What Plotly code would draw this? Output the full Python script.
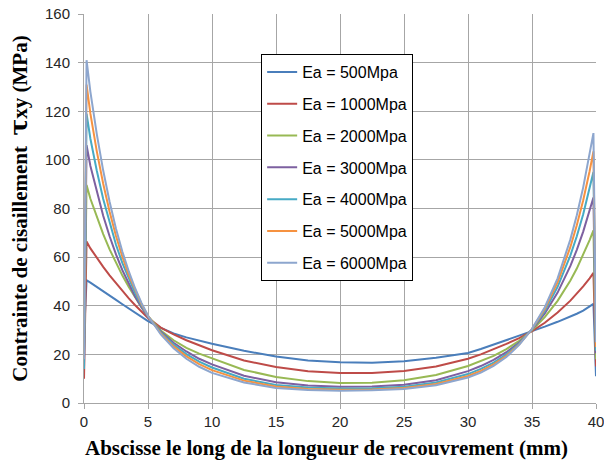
import plotly.graph_objects as go

# Abscissa along the overlap length (mm)
x_mm = [0, 0.2, 0.5, 1, 1.5, 2, 2.5, 3, 3.5, 4, 4.5, 5, 6, 7, 8, 9, 10,
        12.5, 15, 17.5, 20, 22.5, 25, 27.5, 30, 31, 32, 33, 34, 35, 36, 37, 38,
        38.5, 39, 39.5, 39.8, 40]

ea_500 = [28, 50.5, 49.5, 47.8, 46.0, 44.2, 42.4, 40.6, 38.8, 37.0, 35.3, 33.7,
          30.9, 28.6, 27.0, 25.6, 24.4, 21.5, 19.1, 17.5, 16.8, 16.6, 17.2, 18.6, 20.6,
          22.2, 24.0, 25.8, 27.6, 29.5, 31.4, 33.4, 35.5, 36.7, 38.0, 39.6, 40.8, 11]
ea_1000 = [10, 66.4, 63.6, 59.6, 56.0, 52.5, 49.2, 46.0, 43.0, 40.2, 37.5, 35.0,
           31.0, 28.2, 25.8, 23.6, 21.7, 17.5, 14.8, 13.1, 12.3, 12.3, 13.2, 15.0, 18.2,
           20.0, 22.0, 24.3, 26.7, 29.6, 33.0, 37.2, 42.1, 44.9, 48.0, 51.3, 53.5, 15]
ea_2000 = [20, 89.7, 84.0, 76.5, 69.5, 63.2, 57.6, 52.4, 47.7, 43.3, 39.3, 35.7,
           29.8, 25.8, 22.7, 20.3, 18.4, 13.6, 10.7, 9.0, 8.2, 8.3, 9.4, 11.5, 15.2,
           17.2, 19.4, 22.2, 25.6, 29.9, 35.3, 42.0, 50.4, 55.3, 60.8, 67.0, 71.0, 18]
ea_3000 = [16, 106, 97.5, 86.6, 77.0, 68.6, 61.1, 54.6, 48.8, 43.7, 39.3, 35.3,
           29.4, 24.8, 21.2, 18.2, 15.9, 11.2, 8.5, 7.2, 6.7, 6.8, 7.5, 9.4, 13.1,
           15.2, 17.7, 20.9, 24.9, 30.2, 36.8, 45.4, 56.4, 63.0, 70.5, 78.9, 84.5, 20.5]
ea_4000 = [14, 119, 108.7, 95.5, 83.9, 73.9, 65.1, 57.5, 50.9, 45.1, 40.0, 35.6,
           29.0, 24.0, 20.1, 17.0, 14.6, 10.0, 7.4, 6.4, 6.0, 6.1, 6.7, 8.4, 11.9,
           14.0, 16.6, 20.0, 24.5, 30.3, 37.9, 47.8, 60.7, 68.6, 77.6, 87.9, 95.0, 21.5]
ea_5000 = [24, 131, 119.0, 103.5, 90.2, 78.7, 68.7, 60.1, 52.6, 46.2, 40.6, 35.8,
           28.6, 23.3, 19.2, 16.0, 13.5, 9.2, 6.8, 5.8, 5.5, 5.6, 6.2, 7.8, 11.1,
           13.2, 15.9, 19.4, 24.1, 30.4, 38.7, 49.6, 64.2, 73.1, 83.4, 95.3, 103.5, 23]
ea_6000 = [18, 141, 128.0, 110.6, 95.6, 82.8, 71.7, 62.2, 54.1, 47.1, 41.1, 35.9,
           28.2, 22.5, 18.2, 14.9, 12.4, 8.4, 6.2, 5.3, 5.0, 5.2, 5.8, 7.3, 10.5,
           12.5, 15.3, 18.9, 23.9, 30.5, 39.4, 51.3, 67.3, 77.2, 88.7, 102.1, 111.0, 25]

series_names = ["Ea = 500Mpa", "Ea = 1000Mpa", "Ea = 2000Mpa", "Ea = 3000Mpa",
                "Ea = 4000Mpa", "Ea = 5000Mpa", "Ea = 6000Mpa"]
series_values = [ea_500, ea_1000, ea_2000, ea_3000, ea_4000, ea_5000, ea_6000]
series_colors = ["#4A7EBB", "#BE4B48", "#98B954", "#7D60A0", "#46AAC5", "#F69240", "#8DA6CE"]

x_title = "<b>Abscisse le long de la longueur de recouvrement (mm)</b>"
y_title = ("<b>Contrainte de cisaillement  "
           "<span style='font-size:25px;font-family:DejaVu Serif'>τ</span>xy (MPa)</b>")

fig = go.Figure()
for i, (name, vals, col) in enumerate(zip(series_names, series_values, series_colors)):
    fig.add_trace(go.Scatter(x=x_mm, y=vals, mode="lines", name=name,
                             legendgroup=f"g{i}",
                             line=dict(color=col, width=2)))

grid_col = "#A6A6A6"
tick_font = dict(family="Liberation Sans, Arial, sans-serif", size=15, color="#262626")
title_font = dict(family="Liberation Serif, Times New Roman, serif", size=21, color="#000000")

fig.update_layout(
    width=604, height=466,
    margin=dict(l=84, r=8, t=14, b=63),
    paper_bgcolor="white", plot_bgcolor="white",
    showlegend=True,
    legend=dict(x=0.346, y=0.897, xanchor="left", yanchor="top",
                bordercolor="#000000", borderwidth=1, bgcolor="white",
                font=dict(family="Liberation Sans, Arial, sans-serif", size=16, color="#000000"),
                tracegroupgap=8),
    xaxis=dict(range=[0, 40], dtick=5, tick0=0, showgrid=True, gridcolor=grid_col, gridwidth=1,
               showline=True, linecolor=grid_col, linewidth=1, ticks="outside", ticklen=5,
               tickcolor=grid_col, tickfont=tick_font, zeroline=False, automargin=False,
               ticklabeloverflow="allow"),
    yaxis=dict(range=[0, 160], dtick=20, tick0=0, showgrid=True, gridcolor=grid_col, gridwidth=1,
               showline=True, linecolor=grid_col, linewidth=1, ticks="outside", ticklen=5,
               tickcolor=grid_col, tickfont=tick_font, zeroline=False, automargin=False,
               ticklabelstandoff=5, ticklabeloverflow="allow",
               title=dict(text=y_title, font=title_font, standoff=11)),
    annotations=[dict(text=x_title, xref="paper", yref="paper", x=0.4746, y=-0.1157,
                      xanchor="center", yanchor="middle", showarrow=False, font=title_font)],
)

fig.write_html("out.html", config={"displayModeBar": False},
               post_script="document.body.style.margin='0';document.body.style.padding='0';")
